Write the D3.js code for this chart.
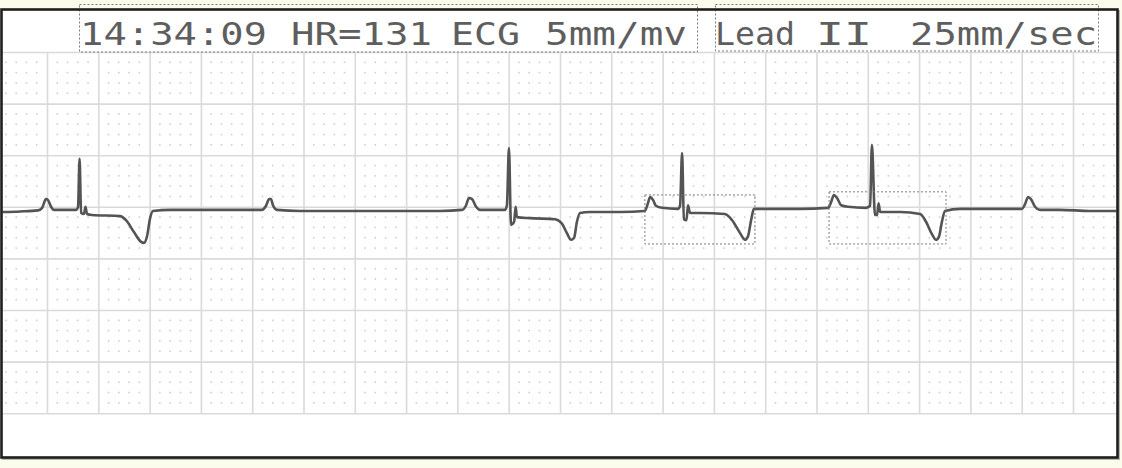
<!DOCTYPE html>
<html><head><meta charset="utf-8">
<script src="https://cdn.jsdelivr.net/npm/d3@7"></script>
<style>
html,body{margin:0;padding:0;background:#fcfcec;}
svg{display:block;}
</style></head>
<body>
<svg id="c" width="1122" height="468"></svg>
<script>
// ---- data (read from the strip) ----
const headerWords = ["14:34:09", "HR=131", "ECG", "5mm/mv", "Lead", "II", "25mm/sec"];
const headerInk = [[82,265],[293,430],[453,518],[547,685],[717,793],[818,870],[912,1095]];

// time in seconds, voltage in mV
const traceTime = [
 0.025,0.095,0.165,0.181,0.196,0.204,0.216,0.227,0.313,0.321,0.327,0.333,0.344,0.350,0.356,0.375,
 0.485,0.508,0.539,0.567,0.578,0.590,0.602,0.613,0.680,0.797,0.933,
 1.038,1.054,1.066,1.073,1.081,1.097,1.186,1.381,1.576,1.732,
 1.818,1.834,1.845,1.857,1.873,1.888,1.986,1.993,2.001,2.009,2.021,2.027,2.032,2.083,
 2.181,2.208,2.227,2.243,2.255,2.266,2.278,2.317,2.434,
 2.531,2.543,2.551,2.563,2.574,2.598,2.660,2.668,2.676,2.683,2.693,2.699,2.707,2.746,
 2.843,2.871,2.902,2.921,2.933,2.945,2.956,3.019,3.136,
 3.245,3.257,3.268,3.280,3.296,3.323,3.393,3.409,3.416,3.428,3.436,3.442,3.448,3.526,
 3.604,3.627,3.650,3.666,3.678,3.689,3.701,3.760,3.915,
 4.001,4.013,4.025,4.036,4.052,4.071,4.149,4.266,4.372
];
const traceMv = [
 -0.10,-0.09,-0.07,-0.02,0.15,0.13,0.00,-0.06,-0.06,0.00,0.93,-0.12,-0.14,0.00,-0.14,-0.16,
 -0.18,-0.26,-0.49,-0.68,-0.70,-0.57,-0.22,-0.08,-0.06,-0.06,-0.06,
 -0.06,0.02,0.15,0.15,0.03,-0.06,-0.08,-0.08,-0.08,-0.08,
 -0.06,0.03,0.17,0.15,0.00,-0.06,-0.06,0.03,1.14,-0.35,-0.29,0.00,-0.20,-0.22,
 -0.24,-0.33,-0.51,-0.64,-0.60,-0.29,-0.12,-0.10,-0.10,
 -0.08,0.07,0.19,0.13,0.02,-0.02,-0.04,0.02,1.04,-0.24,-0.26,0.03,-0.12,-0.12,
 -0.14,-0.26,-0.51,-0.64,-0.57,-0.26,-0.04,-0.04,-0.04,
 -0.02,0.09,0.23,0.17,0.03,0.00,-0.02,0.02,1.20,-0.16,-0.16,0.07,-0.10,-0.10,
 -0.14,-0.29,-0.53,-0.64,-0.57,-0.29,-0.08,-0.04,-0.04,
 -0.04,0.05,0.19,0.15,0.00,-0.06,-0.06,-0.08,-0.08
];

// highlighted beat regions [t0, t1, mvTop, mvBottom]
const highlightBoxes = [[2.531, 2.960, 0.23, -0.72], [3.249, 3.705, 0.29, -0.72]];

const timeDomain = [0, 4.4];
const mvDomain = [-4, 3];
const majorSec = 0.2, minorSec = 0.04, majorMv = 1, minorMv = 0.2;

// ---- layout ----
const svg = d3.select("#c");
const box = {x: 1.5, y: 9.5, w: 1116, h: 448};
const x = d3.scaleLinear().domain(timeDomain).range([-4.3, 1124.3]);
const y = d3.scaleLinear().domain(mvDomain).range([413.2, 52]);

svg.append("rect").attr("x", box.x + 1.5).attr("y", box.y + 1.5).attr("width", box.w).attr("height", box.h)
  .attr("fill", "none").attr("stroke", "#b8b8b0").attr("stroke-width", 2);
svg.append("rect").attr("x", box.x).attr("y", box.y).attr("width", box.w).attr("height", box.h)
  .attr("fill", "#ffffff");

svg.append("clipPath").attr("id", "clip").append("rect")
  .attr("x", box.x + 1).attr("y", box.y + 1).attr("width", box.w - 2).attr("height", box.h - 2);
const g = svg.append("g").attr("clip-path", "url(#clip)");

// minor dots
const minorT = d3.range(Math.round(timeDomain[1] / minorSec) + 1).map(i => i * minorSec)
  .filter(t => Math.abs(t / majorSec - Math.round(t / majorSec)) > 1e-6);
const minorV = d3.range(Math.round((mvDomain[1] - mvDomain[0]) / minorMv) + 1).map(i => mvDomain[0] + i * minorMv)
  .filter(v => Math.abs(v - Math.round(v)) > 1e-6);
const dots = [];
minorT.forEach(t => minorV.forEach(v => dots.push([t, v])));
g.append("g").selectAll("rect").data(dots).join("rect")
  .attr("x", d => x(d[0]) - 0.8).attr("y", d => y(d[1]) - 0.8)
  .attr("width", 1.6).attr("height", 1.6).attr("fill", "#cfcfcf");

// major grid via axes
const xAxis = d3.axisBottom(x).tickValues(d3.range(Math.round(timeDomain[1] / majorSec) + 1).map(i => i * majorSec))
  .tickSize(-(y(mvDomain[1]) - y(mvDomain[0])) * -1).tickFormat("");
const gx = g.append("g").attr("transform", `translate(0,${y(mvDomain[1])})`).call(
  d3.axisBottom(x).tickValues(d3.range(Math.round(timeDomain[1] / majorSec) + 1).map(i => i * majorSec))
    .tickSize(y(mvDomain[0]) - y(mvDomain[1])).tickFormat(""));
gx.select(".domain").remove();
gx.selectAll("line").attr("stroke", "#dadada").attr("stroke-width", 1.6);
const gy = g.append("g").attr("transform", `translate(${box.x},0)`).call(
  d3.axisRight(y).tickValues(d3.range(mvDomain[0], mvDomain[1] + 1, majorMv))
    .tickSize(box.w).tickFormat(""));
gy.select(".domain").remove();
gy.selectAll("line").attr("stroke", "#dadada").attr("stroke-width", 1.6);

// trace
const pts = traceTime.map((t, i) => [t, traceMv[i]]);
const line = d3.line().x(d => x(d[0])).y(d => y(d[1])).curve(d3.curveMonotoneX);
g.append("path").datum(pts).attr("d", line).attr("fill", "none")
  .attr("stroke", "#545454").attr("stroke-width", 2.6).attr("stroke-linejoin", "round").attr("stroke-linecap", "round");

// highlighted beat boxes
svg.append("g").selectAll("rect").data(highlightBoxes).join("rect")
  .attr("x", d => x(d[0])).attr("y", d => y(d[2]))
  .attr("width", d => x(d[1]) - x(d[0])).attr("height", d => y(d[3]) - y(d[2]))
  .attr("fill", "none").attr("stroke", "#7a7a7a").attr("stroke-width", 1).attr("stroke-dasharray", "2,2");

// header text
const ht = svg.append("g");
headerWords.forEach((w, i) => {
  const [a, b] = headerInk[i];
  ht.append("text").attr("x", a - 2).attr("y", 45).text(w)
    .attr("font-family", "DejaVu Sans Mono, monospace").attr("font-size", 32)
    .attr("fill", "#5e5e5e").attr("textLength", b - a + 4).attr("lengthAdjust", "spacingAndGlyphs");
});
// header dotted boxes
[[79, 4.5, 618, 47.5], [715, 4.5, 383, 46.5]].forEach(r => {
  svg.append("rect").attr("x", r[0] + 0.5).attr("y", r[1]).attr("width", r[2]).attr("height", r[3])
    .attr("fill", "none").attr("stroke", "#7a7a7a").attr("stroke-width", 1).attr("stroke-dasharray", "2,2");
});

// border
svg.append("rect").attr("x", box.x).attr("y", box.y).attr("width", box.w).attr("height", box.h)
  .attr("fill", "none").attr("stroke", "#1e1e1e").attr("stroke-width", 2.6);
</script>
</body></html>
